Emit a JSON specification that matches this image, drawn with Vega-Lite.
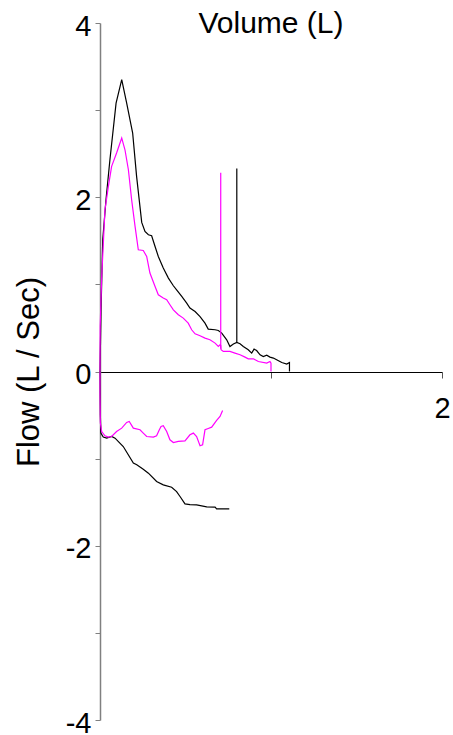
{
  "$schema": "https://vega.github.io/schema/vega-lite/v6.json",
  "width": 342,
  "height": 697,
  "autosize": {"type": "none"},
  "padding": {"left": 100, "top": 23, "right": 11, "bottom": 15},
  "background": "white",
  "config": {"view": {"stroke": null}, "font": "Liberation Sans"},
  "title": {"text": "Volume (L)", "font": "Liberation Sans", "fontSize": 30, "fontWeight": "normal", "color": "black", "anchor": "middle", "frame": "group", "baseline": "alphabetic", "offset": 0, "dy": 51},
  "data": {"values": [
    {"s": "bE", "t": "A", "i": 0, "v": 0, "f": 0},
    {"s": "bE", "t": "A", "i": 1, "v": 0.006, "f": 0.7},
    {"s": "bE", "t": "A", "i": 2, "v": 0.016, "f": 1.512},
    {"s": "bE", "t": "A", "i": 3, "v": 0.035, "f": 1.971},
    {"s": "bE", "t": "A", "i": 4, "v": 0.058, "f": 2.431},
    {"s": "bE", "t": "A", "i": 5, "v": 0.094, "f": 3.081},
    {"s": "bE", "t": "A", "i": 6, "v": 0.127, "f": 3.349},
    {"s": "bE", "t": "A", "i": 7, "v": 0.156, "f": 3.081},
    {"s": "bE", "t": "A", "i": 8, "v": 0.191, "f": 2.737},
    {"s": "bE", "t": "A", "i": 9, "v": 0.214, "f": 2.239},
    {"s": "bE", "t": "A", "i": 10, "v": 0.244, "f": 1.711},
    {"s": "bE", "t": "A", "i": 11, "v": 0.263, "f": 1.607},
    {"s": "bE", "t": "A", "i": 12, "v": 0.283, "f": 1.569},
    {"s": "bE", "t": "A", "i": 13, "v": 0.302, "f": 1.558},
    {"s": "bE", "t": "A", "i": 14, "v": 0.322, "f": 1.435},
    {"s": "bE", "t": "A", "i": 15, "v": 0.341, "f": 1.32},
    {"s": "bE", "t": "A", "i": 16, "v": 0.37, "f": 1.187},
    {"s": "bE", "t": "A", "i": 17, "v": 0.4, "f": 1.072},
    {"s": "bE", "t": "A", "i": 18, "v": 0.429, "f": 0.984},
    {"s": "bE", "t": "A", "i": 19, "v": 0.448, "f": 0.938},
    {"s": "bE", "t": "A", "i": 20, "v": 0.478, "f": 0.861},
    {"s": "bE", "t": "A", "i": 21, "v": 0.507, "f": 0.785},
    {"s": "bE", "t": "A", "i": 22, "v": 0.526, "f": 0.728},
    {"s": "bE", "t": "A", "i": 23, "v": 0.556, "f": 0.689},
    {"s": "bE", "t": "A", "i": 24, "v": 0.585, "f": 0.631},
    {"s": "bE", "t": "A", "i": 25, "v": 0.614, "f": 0.555},
    {"s": "bE", "t": "A", "i": 26, "v": 0.633, "f": 0.487},
    {"s": "bE", "t": "A", "i": 27, "v": 0.673, "f": 0.479},
    {"s": "bE", "t": "A", "i": 28, "v": 0.692, "f": 0.471},
    {"s": "bE", "t": "A", "i": 29, "v": 0.712, "f": 0.441},
    {"s": "bE", "t": "A", "i": 30, "v": 0.741, "f": 0.364},
    {"s": "bE", "t": "A", "i": 31, "v": 0.76, "f": 0.287},
    {"s": "bE", "t": "A", "i": 32, "v": 0.78, "f": 0.315},
    {"s": "bE", "t": "A", "i": 33, "v": 0.8, "f": 0.333},
    {"s": "bE", "t": "A", "i": 34, "v": 0.819, "f": 0.318},
    {"s": "bE", "t": "A", "i": 35, "v": 0.838, "f": 0.287},
    {"s": "bE", "t": "A", "i": 36, "v": 0.867, "f": 0.249},
    {"s": "bE", "t": "A", "i": 37, "v": 0.887, "f": 0.211},
    {"s": "bE", "t": "A", "i": 38, "v": 0.901, "f": 0.257},
    {"s": "bE", "t": "A", "i": 39, "v": 0.916, "f": 0.241},
    {"s": "bE", "t": "A", "i": 40, "v": 0.936, "f": 0.192},
    {"s": "bE", "t": "A", "i": 41, "v": 0.955, "f": 0.172},
    {"s": "bE", "t": "A", "i": 42, "v": 0.975, "f": 0.188},
    {"s": "bE", "t": "A", "i": 43, "v": 0.994, "f": 0.165},
    {"s": "bE", "t": "A", "i": 44, "v": 1.014, "f": 0.154},
    {"s": "bE", "t": "A", "i": 45, "v": 1.033, "f": 0.134},
    {"s": "bE", "t": "A", "i": 46, "v": 1.063, "f": 0.103},
    {"s": "bE", "t": "A", "i": 47, "v": 1.092, "f": 0.085},
    {"s": "bE", "t": "A", "i": 48, "v": 1.108, "f": 0.103},
    {"s": "bE", "t": "A", "i": 49, "v": 1.108, "f": 0},
    {"s": "bM", "t": "A", "i": 0, "v": 0.8, "f": 0.333},
    {"s": "bM", "t": "A", "i": 1, "v": 0.8, "f": 2.33},
    {"s": "mE", "t": "B", "i": 0, "v": 0, "f": 0},
    {"s": "mE", "t": "B", "i": 1, "v": 0.001, "f": 0.517},
    {"s": "mE", "t": "B", "i": 2, "v": 0.01, "f": 1.091},
    {"s": "mE", "t": "B", "i": 3, "v": 0.029, "f": 1.857},
    {"s": "mE", "t": "B", "i": 4, "v": 0.049, "f": 2.124},
    {"s": "mE", "t": "B", "i": 5, "v": 0.068, "f": 2.354},
    {"s": "mE", "t": "B", "i": 6, "v": 0.097, "f": 2.508},
    {"s": "mE", "t": "B", "i": 7, "v": 0.127, "f": 2.68},
    {"s": "mE", "t": "B", "i": 8, "v": 0.146, "f": 2.545},
    {"s": "mE", "t": "B", "i": 9, "v": 0.166, "f": 2.316},
    {"s": "mE", "t": "B", "i": 10, "v": 0.185, "f": 1.971},
    {"s": "mE", "t": "B", "i": 11, "v": 0.205, "f": 1.665},
    {"s": "mE", "t": "B", "i": 12, "v": 0.224, "f": 1.397},
    {"s": "mE", "t": "B", "i": 13, "v": 0.253, "f": 1.389},
    {"s": "mE", "t": "B", "i": 14, "v": 0.273, "f": 1.32},
    {"s": "mE", "t": "B", "i": 15, "v": 0.292, "f": 1.13},
    {"s": "mE", "t": "B", "i": 16, "v": 0.322, "f": 0.976},
    {"s": "mE", "t": "B", "i": 17, "v": 0.341, "f": 0.881},
    {"s": "mE", "t": "B", "i": 18, "v": 0.37, "f": 0.843},
    {"s": "mE", "t": "B", "i": 19, "v": 0.39, "f": 0.823},
    {"s": "mE", "t": "B", "i": 20, "v": 0.409, "f": 0.766},
    {"s": "mE", "t": "B", "i": 21, "v": 0.429, "f": 0.708},
    {"s": "mE", "t": "B", "i": 22, "v": 0.458, "f": 0.651},
    {"s": "mE", "t": "B", "i": 23, "v": 0.487, "f": 0.613},
    {"s": "mE", "t": "B", "i": 24, "v": 0.516, "f": 0.555},
    {"s": "mE", "t": "B", "i": 25, "v": 0.536, "f": 0.479},
    {"s": "mE", "t": "B", "i": 26, "v": 0.556, "f": 0.433},
    {"s": "mE", "t": "B", "i": 27, "v": 0.585, "f": 0.41},
    {"s": "mE", "t": "B", "i": 28, "v": 0.614, "f": 0.383},
    {"s": "mE", "t": "B", "i": 29, "v": 0.643, "f": 0.364},
    {"s": "mE", "t": "B", "i": 30, "v": 0.673, "f": 0.326},
    {"s": "mE", "t": "B", "i": 31, "v": 0.692, "f": 0.287},
    {"s": "mE", "t": "B", "i": 32, "v": 0.702, "f": 0.306},
    {"s": "mE", "t": "B", "i": 33, "v": 0.706, "f": 0.3},
    {"s": "mE", "t": "B", "i": 34, "v": 0.708, "f": 0.249},
    {"s": "mE", "t": "B", "i": 35, "v": 0.721, "f": 0.23},
    {"s": "mE", "t": "B", "i": 36, "v": 0.76, "f": 0.23},
    {"s": "mE", "t": "B", "i": 37, "v": 0.789, "f": 0.211},
    {"s": "mE", "t": "B", "i": 38, "v": 0.819, "f": 0.192},
    {"s": "mE", "t": "B", "i": 39, "v": 0.848, "f": 0.165},
    {"s": "mE", "t": "B", "i": 40, "v": 0.867, "f": 0.146},
    {"s": "mE", "t": "B", "i": 41, "v": 0.897, "f": 0.146},
    {"s": "mE", "t": "B", "i": 42, "v": 0.926, "f": 0.115},
    {"s": "mE", "t": "B", "i": 43, "v": 0.975, "f": 0.096},
    {"s": "mE", "t": "B", "i": 44, "v": 0.994, "f": 0.115},
    {"s": "mE", "t": "B", "i": 45, "v": 1.0, "f": 0.096},
    {"s": "mE", "t": "B", "i": 46, "v": 1.0, "f": 0},
    {"s": "mM", "t": "B", "i": 0, "v": 0.706, "f": 0.26},
    {"s": "mM", "t": "B", "i": 1, "v": 0.706, "f": 2.28},
    {"s": "bI", "t": "A", "i": 0, "v": 0, "f": 0},
    {"s": "bI", "t": "A", "i": 1, "v": 0.002, "f": -0.5},
    {"s": "bI", "t": "A", "i": 2, "v": 0.005, "f": -0.707},
    {"s": "bI", "t": "A", "i": 3, "v": 0.019, "f": -0.753},
    {"s": "bI", "t": "A", "i": 4, "v": 0.039, "f": -0.765},
    {"s": "bI", "t": "A", "i": 5, "v": 0.068, "f": -0.746},
    {"s": "bI", "t": "A", "i": 6, "v": 0.088, "f": -0.765},
    {"s": "bI", "t": "A", "i": 7, "v": 0.136, "f": -0.861},
    {"s": "bI", "t": "A", "i": 8, "v": 0.195, "f": -1.052},
    {"s": "bI", "t": "A", "i": 9, "v": 0.215, "f": -1.071},
    {"s": "bI", "t": "A", "i": 10, "v": 0.253, "f": -1.121},
    {"s": "bI", "t": "A", "i": 11, "v": 0.283, "f": -1.167},
    {"s": "bI", "t": "A", "i": 12, "v": 0.331, "f": -1.263},
    {"s": "bI", "t": "A", "i": 13, "v": 0.37, "f": -1.301},
    {"s": "bI", "t": "A", "i": 14, "v": 0.419, "f": -1.328},
    {"s": "bI", "t": "A", "i": 15, "v": 0.448, "f": -1.378},
    {"s": "bI", "t": "A", "i": 16, "v": 0.468, "f": -1.435},
    {"s": "bI", "t": "A", "i": 17, "v": 0.497, "f": -1.519},
    {"s": "bI", "t": "A", "i": 18, "v": 0.526, "f": -1.527},
    {"s": "bI", "t": "A", "i": 19, "v": 0.565, "f": -1.53},
    {"s": "bI", "t": "A", "i": 20, "v": 0.624, "f": -1.553},
    {"s": "bI", "t": "A", "i": 21, "v": 0.673, "f": -1.557},
    {"s": "bI", "t": "A", "i": 22, "v": 0.682, "f": -1.576},
    {"s": "bI", "t": "A", "i": 23, "v": 0.756, "f": -1.576},
    {"s": "mI", "t": "B", "i": 0, "v": 0, "f": 0},
    {"s": "mI", "t": "B", "i": 1, "v": 0, "f": -0.25},
    {"s": "mI", "t": "B", "i": 2, "v": 0.002, "f": -0.59},
    {"s": "mI", "t": "B", "i": 3, "v": 0.01, "f": -0.69},
    {"s": "mI", "t": "B", "i": 4, "v": 0.029, "f": -0.738},
    {"s": "mI", "t": "B", "i": 5, "v": 0.049, "f": -0.753},
    {"s": "mI", "t": "B", "i": 6, "v": 0.068, "f": -0.746},
    {"s": "mI", "t": "B", "i": 7, "v": 0.097, "f": -0.689},
    {"s": "mI", "t": "B", "i": 8, "v": 0.127, "f": -0.65},
    {"s": "mI", "t": "B", "i": 9, "v": 0.156, "f": -0.585},
    {"s": "mI", "t": "B", "i": 10, "v": 0.171, "f": -0.574},
    {"s": "mI", "t": "B", "i": 11, "v": 0.195, "f": -0.65},
    {"s": "mI", "t": "B", "i": 12, "v": 0.234, "f": -0.669},
    {"s": "mI", "t": "B", "i": 13, "v": 0.253, "f": -0.707},
    {"s": "mI", "t": "B", "i": 14, "v": 0.273, "f": -0.746},
    {"s": "mI", "t": "B", "i": 15, "v": 0.312, "f": -0.753},
    {"s": "mI", "t": "B", "i": 16, "v": 0.331, "f": -0.738},
    {"s": "mI", "t": "B", "i": 17, "v": 0.347, "f": -0.669},
    {"s": "mI", "t": "B", "i": 18, "v": 0.357, "f": -0.631},
    {"s": "mI", "t": "B", "i": 19, "v": 0.37, "f": -0.623},
    {"s": "mI", "t": "B", "i": 20, "v": 0.39, "f": -0.689},
    {"s": "mI", "t": "B", "i": 21, "v": 0.409, "f": -0.784},
    {"s": "mI", "t": "B", "i": 22, "v": 0.429, "f": -0.815},
    {"s": "mI", "t": "B", "i": 23, "v": 0.458, "f": -0.803},
    {"s": "mI", "t": "B", "i": 24, "v": 0.497, "f": -0.796},
    {"s": "mI", "t": "B", "i": 25, "v": 0.526, "f": -0.727},
    {"s": "mI", "t": "B", "i": 26, "v": 0.546, "f": -0.707},
    {"s": "mI", "t": "B", "i": 27, "v": 0.565, "f": -0.746},
    {"s": "mI", "t": "B", "i": 28, "v": 0.585, "f": -0.853},
    {"s": "mI", "t": "B", "i": 29, "v": 0.6, "f": -0.842},
    {"s": "mI", "t": "B", "i": 30, "v": 0.614, "f": -0.669},
    {"s": "mI", "t": "B", "i": 31, "v": 0.633, "f": -0.654},
    {"s": "mI", "t": "B", "i": 32, "v": 0.653, "f": -0.639},
    {"s": "mI", "t": "B", "i": 33, "v": 0.682, "f": -0.562},
    {"s": "mI", "t": "B", "i": 34, "v": 0.702, "f": -0.516},
    {"s": "mI", "t": "B", "i": 35, "v": 0.717, "f": -0.448}
  ]},
  "mark": {"type": "line", "strokeWidth": 1.2, "interpolate": "linear"},
  "encoding": {
    "x": {"field": "v", "type": "quantitative",
      "scale": {"domain": [0, 2], "nice": false, "zero": false},
      "axis": {"orient": "bottom", "offset": -348, "values": [0, 1, 2], "labelExpr": "datum.value == 2 ? '2' : ''", "grid": false, "title": null,
        "domainColor": "black", "domainWidth": 1.2, "tickColor": "#555555", "tickSize": 6, "labelFont": "Liberation Sans", "labelFontSize": 29, "labelColor": "black", "labelPadding": 16, "labelFlush": false}},
    "y": {"field": "f", "type": "quantitative",
      "scale": {"domain": [-4, 4], "nice": false, "zero": false},
      "axis": {"values": [-4, -3, -2, -1, 0, 1, 2, 3, 4], "labelExpr": "datum.value % 2 == 0 ? toString(datum.value) : ''", "grid": false, "title": "Flow (L / Sec)",
        "titleFont": "Liberation Sans", "titleFontSize": 31, "titleFontWeight": "normal", "titleColor": "black", "titlePadding": 20,
        "domainColor": "#808080", "domainWidth": 1.5, "tickColor": "#808080", "tickSize": 5, "labelFont": "Liberation Sans", "labelFontSize": 29, "labelColor": "black", "labelPadding": 4, "labelFlush": false, "labelOffset": 3}},
    "color": {"field": "t", "type": "nominal", "scale": {"domain": ["A", "B"], "range": ["#000000", "#FF00FF"]}, "legend": null},
    "detail": {"field": "s"},
    "order": {"field": "i", "type": "quantitative"}
  }
}
